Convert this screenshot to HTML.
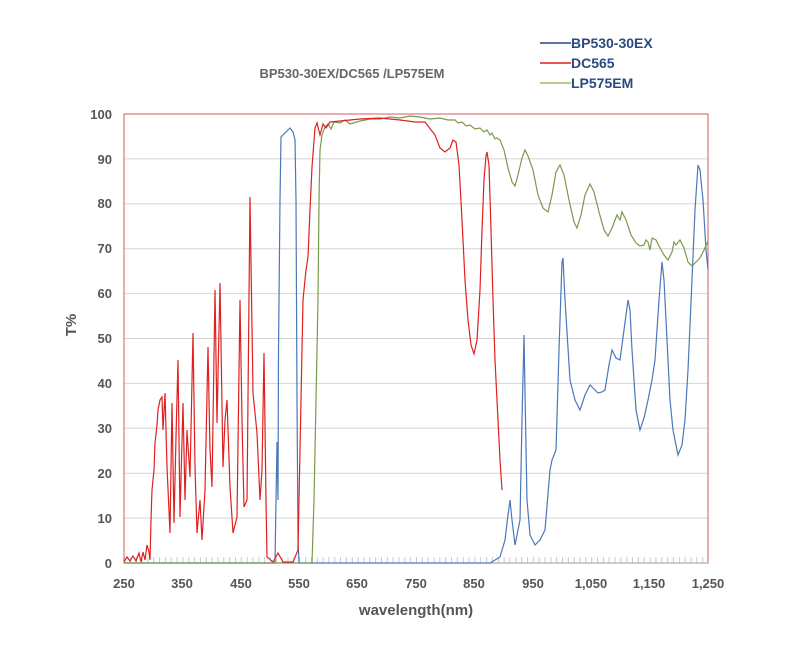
<!DOCTYPE html>
<html><head><meta charset="utf-8"><style>
body{margin:0;background:#fff;}
svg{display:block;font-family:"Liberation Sans",sans-serif;}
</style></head><body>
<svg width="794" height="668" viewBox="0 0 794 668">
<g stroke="#d4d4d4" stroke-width="1">
<line x1="124" x2="708" y1="518.1" y2="518.1"/><line x1="124" x2="708" y1="473.2" y2="473.2"/>
<line x1="124" x2="708" y1="428.3" y2="428.3"/><line x1="124" x2="708" y1="383.4" y2="383.4"/>
<line x1="124" x2="708" y1="338.5" y2="338.5"/><line x1="124" x2="708" y1="293.6" y2="293.6"/>
<line x1="124" x2="708" y1="248.7" y2="248.7"/><line x1="124" x2="708" y1="203.8" y2="203.8"/>
<line x1="124" x2="708" y1="158.9" y2="158.9"/>
</g>
<line x1="124" x2="708" y1="560" y2="560" stroke="#c9c9d9" stroke-width="6" stroke-dasharray="1 4.84"/>
<rect x="124" y="114" width="584" height="449" fill="none" stroke="#d65a5a" stroke-width="1"/>
<line x1="124" y1="563" x2="708" y2="563" stroke="#999" stroke-width="1"/>
<!-- blue -->
<polyline fill="none" stroke="#4a78b8" stroke-width="1.2" points="124,563 275,563 276,500 277,442 278,500 278.5,350 280,200 281,137 285,133 290,128 293,132 295,140 296,200 297,400 298,540 299,563 490,563 500,557 505,540 508,515 510,500 512,520 515,545 520,520 522,420 524,335 525.5,420 527,500 530,535 535,545 540,540 545,530 550,470 552,460 556,450 559,350 562,262 563,258 565,300 570,380 575,400 580,410 585,395 590,385 595,390 598,393 602,392 605,390 609,365 612,350 616,358 620,360 624,330 628,300 630,310 632,350 636,410 640,430 644,418 648,400 652,380 655,360 659,300 662,262 664,280 667,340 670,400 673,430 678,455 682,445 685,420 688,370 692,280 695,210 698,165 700,170 703,200 706,250 708,270"/>
<!-- green -->
<polyline fill="none" stroke="#7a9a4a" stroke-width="1.2" points="124,563 312,563 314,500 316,400 318,300 319,200 320,150 322,135 325,127 328,124 331,129 334,122 340,123 345,120 350,124 360,121 370,119 380,119 390,117 400,118 410,116 420,117 430,119 440,118 448,120 455,120 458,123 462,122 466,126 470,125 475,129 480,128 484,132 487,130 490,135 492,133 495,139 497,138 500,140 504,150 508,168 512,182 515,186 518,175 522,158 525,150 528,156 533,170 538,195 543,208 548,212 552,195 556,172 560,165 564,175 569,200 574,222 577,228 581,215 585,195 590,184 594,192 599,212 604,230 608,236 612,228 617,215 620,220 622,212 626,220 631,235 636,243 640,246 644,245 646,240 648,242 650,250 652,238 656,240 660,248 664,255 668,260 672,252 674,242 676,245 680,240 684,248 688,262 692,266 696,262 700,258 704,250 708,241"/>
<!-- red -->
<polyline fill="none" stroke="#e02020" stroke-width="1.2" points="124,562 127,557 130,561 133,556 136,561 139,553 141,562 143,552 145,560 147,545 149,552 150,560 151,520 152,490 154,470 155,443 157,425 158,410 160,400 162,397 163,430 165,393 167,467 170,533 172,403 174,523 176,437 178,360 180,517 183,403 185,500 187,430 190,477 193,333 195,467 197,533 200,500 202,540 205,490 208,347 210,450 212,487 215,290 217,423 220,283 223,467 225,420 227,400 230,487 233,533 237,517 240,300 242,420 244,507 247,500 250,197 253,393 257,433 260,500 262,470 264,353 266,500 267,557 273,562 278,553 283,562 293,562 298,550 300,450 303,300 306,270 308,257 310,210 312,167 315,128 317,123 320,135 323,124 326,128 330,122 340,121 360,119 380,118 400,120 415,122 425,122 435,135 440,148 445,152 450,148 453,140 456,142 459,165 462,220 465,280 468,320 471,345 474,354 477,340 480,290 482,230 484,180 486,156 487,152 489,165 491,230 493,300 495,360 498,420 500,460 502,490"/>
<text x="352" y="78" font-size="13" font-weight="bold" fill="#666" text-anchor="middle">BP530-30EX/DC565 /LP575EM</text>
<g font-size="14" font-weight="bold" fill="#2a4a80">
<line x1="540" x2="571" y1="43" y2="43" stroke="#2a4a80" stroke-width="1.5"/><text x="571" y="48">BP530-30EX</text>
<line x1="540" x2="571" y1="63" y2="63" stroke="#e02020" stroke-width="1.5"/><text x="571" y="68">DC565</text>
<line x1="540" x2="571" y1="83" y2="83" stroke="#a8b860" stroke-width="1.5"/><text x="571" y="88">LP575EM</text>
</g>
<g font-size="13" font-weight="bold" fill="#555" text-anchor="end">
<text x="112" y="568">0</text><text x="112" y="523">10</text><text x="112" y="478">20</text>
<text x="112" y="433">30</text><text x="112" y="388">40</text><text x="112" y="343">50</text>
<text x="112" y="298">60</text><text x="112" y="253">70</text><text x="112" y="208">80</text>
<text x="112" y="164">90</text><text x="112" y="119">100</text>
</g>
<g font-size="13" font-weight="bold" fill="#555" text-anchor="middle">
<text x="124" y="588">250</text><text x="182" y="588">350</text><text x="241" y="588">450</text>
<text x="299" y="588">550</text><text x="357" y="588">650</text><text x="416" y="588">750</text>
<text x="474" y="588">850</text><text x="533" y="588">950</text><text x="591" y="588">1,050</text>
<text x="649" y="588">1,150</text><text x="708" y="588">1,250</text>
</g>
<text x="416" y="615" font-size="15" font-weight="bold" fill="#555" text-anchor="middle">wavelength(nm)</text>
<text transform="translate(76,325) rotate(-90)" font-size="15" font-weight="bold" fill="#555" text-anchor="middle">T%</text>
</svg>
</body></html>
